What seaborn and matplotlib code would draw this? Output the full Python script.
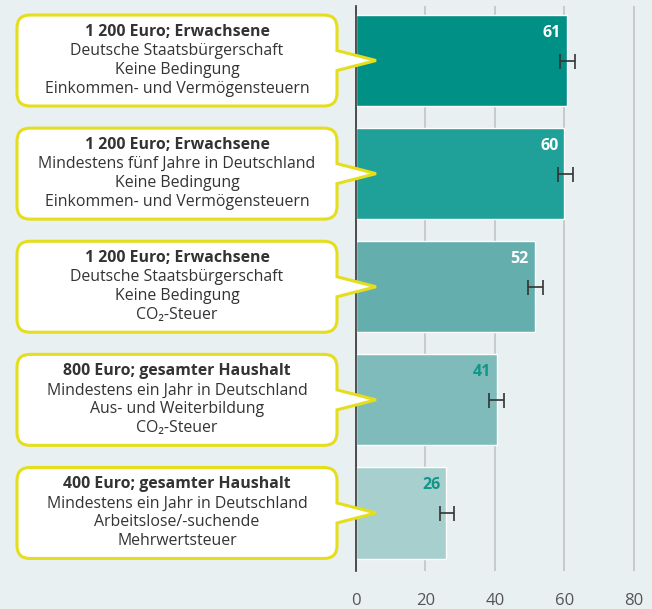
import matplotlib
matplotlib.use("Agg")
import matplotlib.pyplot as plt
import matplotlib.transforms as mtransforms
from matplotlib.path import Path
from matplotlib.patches import PathPatch
import seaborn as sns

# Szenarien (Zeilen der Sprechblasen) und Zustimmung in Prozent
headlines = ["1 200 Euro; Erwachsene", "1 200 Euro; Erwachsene", "1 200 Euro; Erwachsene",
             "800 Euro; gesamter Haushalt", "400 Euro; gesamter Haushalt"]
details = [["Deutsche Staatsbürgerschaft", "Keine Bedingung", "Einkommen- und Vermögensteuern"],
           ["Mindestens fünf Jahre in Deutschland", "Keine Bedingung", "Einkommen- und Vermögensteuern"],
           ["Deutsche Staatsbürgerschaft", "Keine Bedingung", "CO₂-Steuer"],
           ["Mindestens ein Jahr in Deutschland", "Aus- und Weiterbildung", "CO₂-Steuer"],
           ["Mindestens ein Jahr in Deutschland", "Arbeitslose/-suchende", "Mehrwertsteuer"]]
values = [60.6, 60.0, 51.4, 40.7, 26.0]
value_labels = ["61", "60", "52", "41", "26"]
err_center = [60.9, 60.3, 51.7, 40.5, 26.2]
err_half = [2.2, 2.1, 2.1, 2.1, 2.15]
xticks = [0, 20, 40, 60, 80]

bar_colors = ["#009086", "#1fa199", "#64afad", "#7fbbba", "#a6cfcd"]
label_colors = ["white", "white", "white", "#13958a", "#13958a"]
bg = "#e8f0f1"
yellow = "#e4de1c"

categories = [h + "\n" + "\n".join(d) for h, d in zip(headlines, details)]

sns.set_style("white")
plt.rcParams["font.family"] = ["Open Sans", "DejaVu Sans"]

fig = plt.figure(figsize=(6.52, 6.09), dpi=100, facecolor=bg)
ax = fig.add_axes([356 / 652, 38 / 609, 296 / 652, 565 / 609])
ax.set_facecolor(bg)

sns.barplot(x=values, y=categories, hue=categories, palette=bar_colors, legend=False,
            orient="h", width=0.805, saturation=1, ax=ax, zorder=2)

pos = list(range(len(values)))
ax.errorbar(err_center, pos, xerr=err_half, fmt="none", ecolor="#333333",
            elinewidth=1.2, capsize=5.4, capthick=1.2, zorder=3)

for i, (v, lab) in enumerate(zip(values, value_labels)):
    ax.annotate(lab, (v, i), xytext=(-6, 28), textcoords="offset pixels",
                ha="right", va="center", fontsize=11.5, fontweight="bold",
                color=label_colors[i], zorder=4)

ax.set_xlim(0, 85.2)
ax.set_ylim(4.513, -0.482)
ax.set_xticks(xticks)
ax.set_yticks([])
ax.set_xlabel("")
ax.set_ylabel("")
ax.grid(axis="x", color="#c4c8c9", linewidth=1.3, zorder=0)
ax.set_axisbelow(True)
for s in ["top", "right", "bottom"]:
    ax.spines[s].set_visible(False)
ax.spines["left"].set_color("#333333")
ax.spines["left"].set_linewidth(1.2)
ax.spines["left"].set_zorder(2.5)
ax.tick_params(axis="x", length=11, width=1.2, color="#333333", pad=5,
               labelsize=12, labelcolor="#555555")

# Sprechblasen
L, R, T, B, r, pb, tip = -3.39, -0.19, 0.455, -0.455, 0.13, 0.10, 0.20
verts = [(L + r, T), (R - r, T), (R, T), (R, T - r), (R, pb), (tip, 0), (R, -pb),
         (R, B + r), (R, B), (R - r, B), (L + r, B), (L, B), (L, B + r),
         (L, T - r), (L, T), (L + r, T), (L + r, T)]
codes = [Path.MOVETO, Path.LINETO, Path.CURVE3, Path.CURVE3, Path.LINETO, Path.LINETO,
         Path.LINETO, Path.LINETO, Path.CURVE3, Path.CURVE3, Path.LINETO, Path.CURVE3,
         Path.CURVE3, Path.LINETO, Path.CURVE3, Path.CURVE3, Path.CLOSEPOLY]
bubble = Path(verts, codes)
offsets = [0.285, 0.095, -0.095, -0.285]

for i in pos:
    trans = fig.dpi_scale_trans + mtransforms.ScaledTranslation(0, i, ax.transData)
    ax.add_patch(PathPatch(bubble, transform=trans, facecolor="white", edgecolor=yellow,
                           linewidth=2.2, clip_on=False, zorder=5))
    lines = [headlines[i]] + details[i]
    for j, (txt, off) in enumerate(zip(lines, offsets)):
        ax.text(-1.79, off, txt, transform=trans, ha="center", va="center",
                fontsize=11.4, color="#333333", fontweight="bold" if j == 0 else "normal",
                zorder=6, clip_on=False)

fig.savefig("out.png", dpi=100, facecolor=bg)
